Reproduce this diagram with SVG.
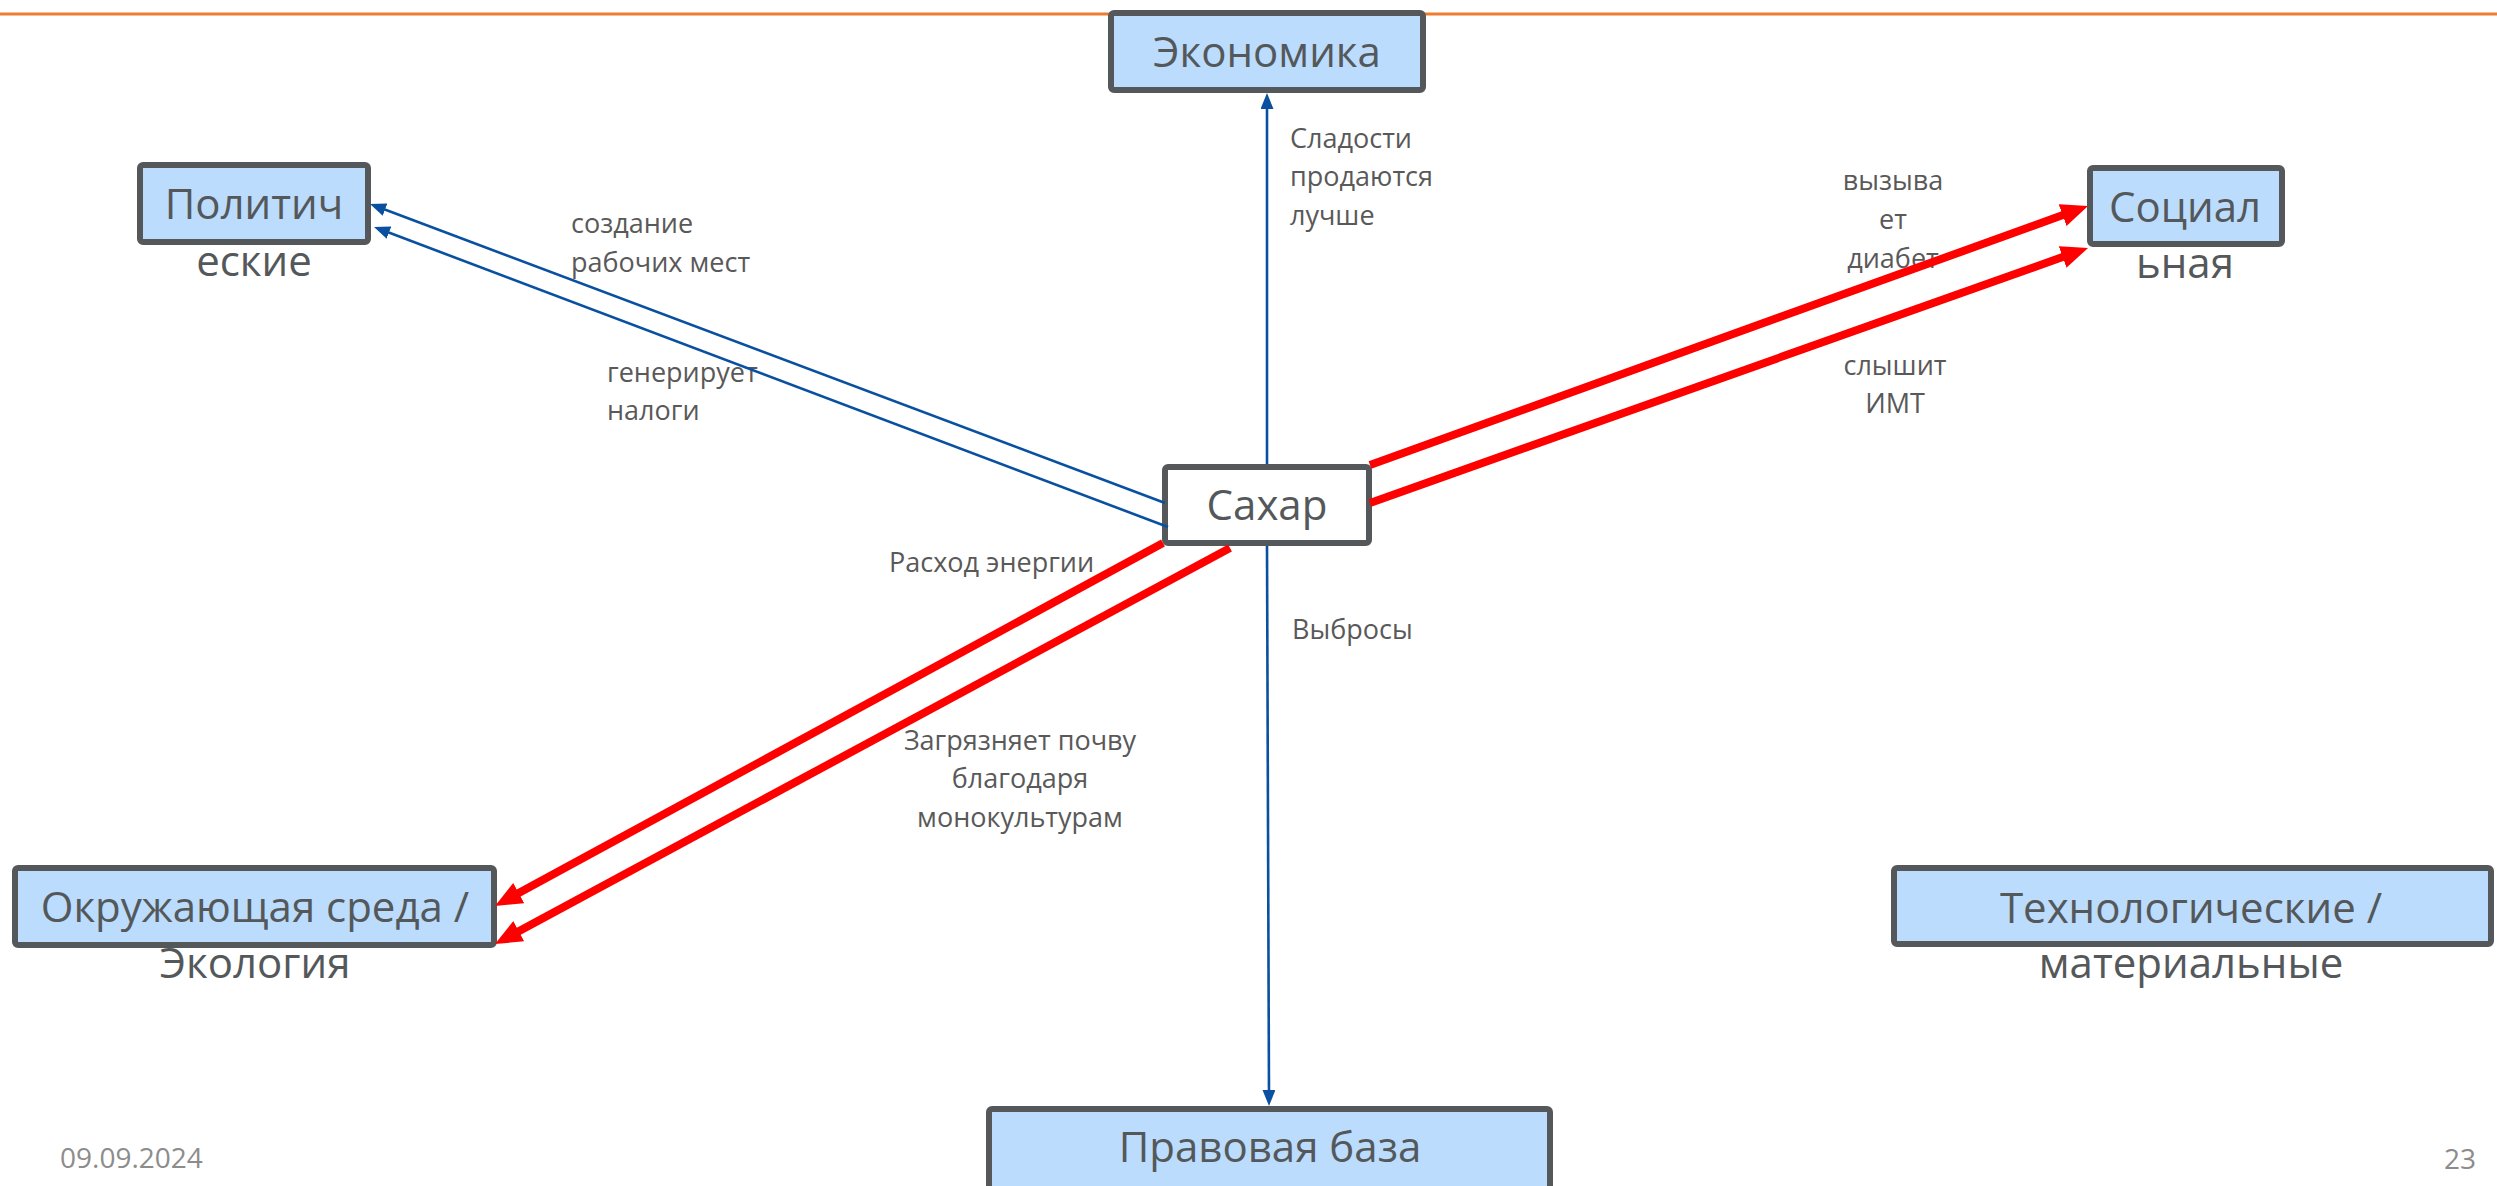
<svg xmlns="http://www.w3.org/2000/svg" width="2497" height="1186" viewBox="0 0 2497 1186">
<style>
.node rect{fill:#bbdcfd;stroke:#54585a;stroke-width:6}
#n-sugar rect{fill:#ffffff}
.nt{font-family:"Open Sans","Liberation Sans",sans-serif;font-size:42px;fill:#54585a;text-anchor:middle}
.lbl{font-family:"Open Sans","Liberation Sans",sans-serif;font-size:27px;fill:#595959}
.mid{text-anchor:middle}
.blue{stroke:#0a50a0;stroke-width:2.6;fill:none}
.red{stroke:#ff0000;stroke-width:8;fill:none}
.foot{font-family:"Open Sans","Liberation Sans",sans-serif;font-size:28px;fill:#8c8c8c}
</style>
<defs>
<marker id="ab" markerUnits="userSpaceOnUse" markerWidth="16" markerHeight="13" viewBox="0 0 16 13" refX="8" refY="6.5" orient="auto">
<path d="M0,0 L16,6.5 L0,13 z" fill="#0a50a0"/>
</marker>
<marker id="ar" markerUnits="userSpaceOnUse" markerWidth="27" markerHeight="23" viewBox="0 0 27 23" refX="12" refY="11.5" orient="auto">
<path d="M0,0 L27,11.5 L0,23 z" fill="#ff0000"/>
</marker>
</defs>
<rect x="0" y="0" width="2497" height="1186" fill="#ffffff"/>
<line x1="0" y1="14" x2="2497" y2="14" stroke="#ed7d31" stroke-width="3"/>

<g id="n-economy" class="node"><rect x="1111" y="13" width="312" height="77" rx="3"/><text class="nt" x="1267" y="67">Экономика</text></g>
<g id="n-politic" class="node"><rect x="140" y="165" width="228" height="77" rx="3"/><text class="nt" x="254" y="219">Политич</text><text class="nt" x="254" y="276">еские</text></g>
<g id="n-social" class="node"><rect x="2090" y="168" width="192" height="76" rx="3"/><text class="nt" x="2185" y="222">Социал</text><text class="nt" x="2185" y="278">ьная</text></g>
<g id="n-sugar" class="node"><rect x="1165" y="467" width="204" height="76" rx="3"/><text class="nt" x="1267" y="520">Сахар</text></g>
<g id="n-env" class="node"><rect x="15" y="868" width="479" height="77" rx="3"/><text class="nt" x="255" y="922">Окружающая среда /</text><text class="nt" x="255" y="978">Экология</text></g>
<g id="n-tech" class="node"><rect x="1894" y="868" width="597" height="76" rx="3"/><text class="nt" x="2191" y="923">Технологические /</text><text class="nt" x="2191" y="978">материальные</text></g>
<g id="n-law" class="node"><rect x="989" y="1109" width="561" height="80" rx="3"/><text class="nt" x="1270" y="1162">Правовая база</text></g>

<g id="labels">
<text class="lbl" x="1290" y="148">Сладости</text>
<text class="lbl" x="1290" y="186">продаются</text>
<text class="lbl" x="1290" y="225">лучше</text>
<text class="lbl" x="571" y="233">создание</text>
<text class="lbl" x="571" y="272">рабочих мест</text>
<text class="lbl" x="607" y="382">генерирует</text>
<text class="lbl" x="607" y="420">налоги</text>
<text class="lbl mid" x="1893" y="190">вызыва</text>
<text class="lbl mid" x="1893" y="229">ет</text>
<text class="lbl mid" x="1893" y="268">диабет</text>
<text class="lbl mid" x="1895" y="375">слышит</text>
<text class="lbl mid" x="1895" y="413">ИМТ</text>
<text class="lbl" x="889" y="572">Расход энергии</text>
<text class="lbl mid" x="1020" y="750">Загрязняет почву</text>
<text class="lbl mid" x="1020" y="788">благодаря</text>
<text class="lbl mid" x="1020" y="827">монокультурам</text>
<text class="lbl" x="1292" y="639">Выбросы</text>
</g>

<g id="connectors">
<line class="blue" x1="1267" y1="464" x2="1267" y2="101" marker-end="url(#ab)"/>
<line class="blue" x1="1267" y1="546" x2="1269" y2="1098" marker-end="url(#ab)"/>
<line class="blue" x1="1165" y1="503" x2="377.5" y2="206.8" marker-end="url(#ab)"/>
<line class="blue" x1="1168" y1="527" x2="381.5" y2="229.8" marker-end="url(#ab)"/>
<line class="red" x1="1370" y1="465" x2="2073.9" y2="211.1" marker-end="url(#ar)"/>
<line class="red" x1="1370" y1="503" x2="2073.9" y2="253" marker-end="url(#ar)"/>
<line class="red" x1="1163" y1="543" x2="508.2" y2="898.8" marker-end="url(#ar)"/>
<line class="red" x1="1230" y1="548" x2="508.2" y2="936.9" marker-end="url(#ar)"/>
</g>

<text class="foot" x="60" y="1168">09.09.2024</text>
<text class="foot" x="2476" y="1169" text-anchor="end">23</text>
</svg>
